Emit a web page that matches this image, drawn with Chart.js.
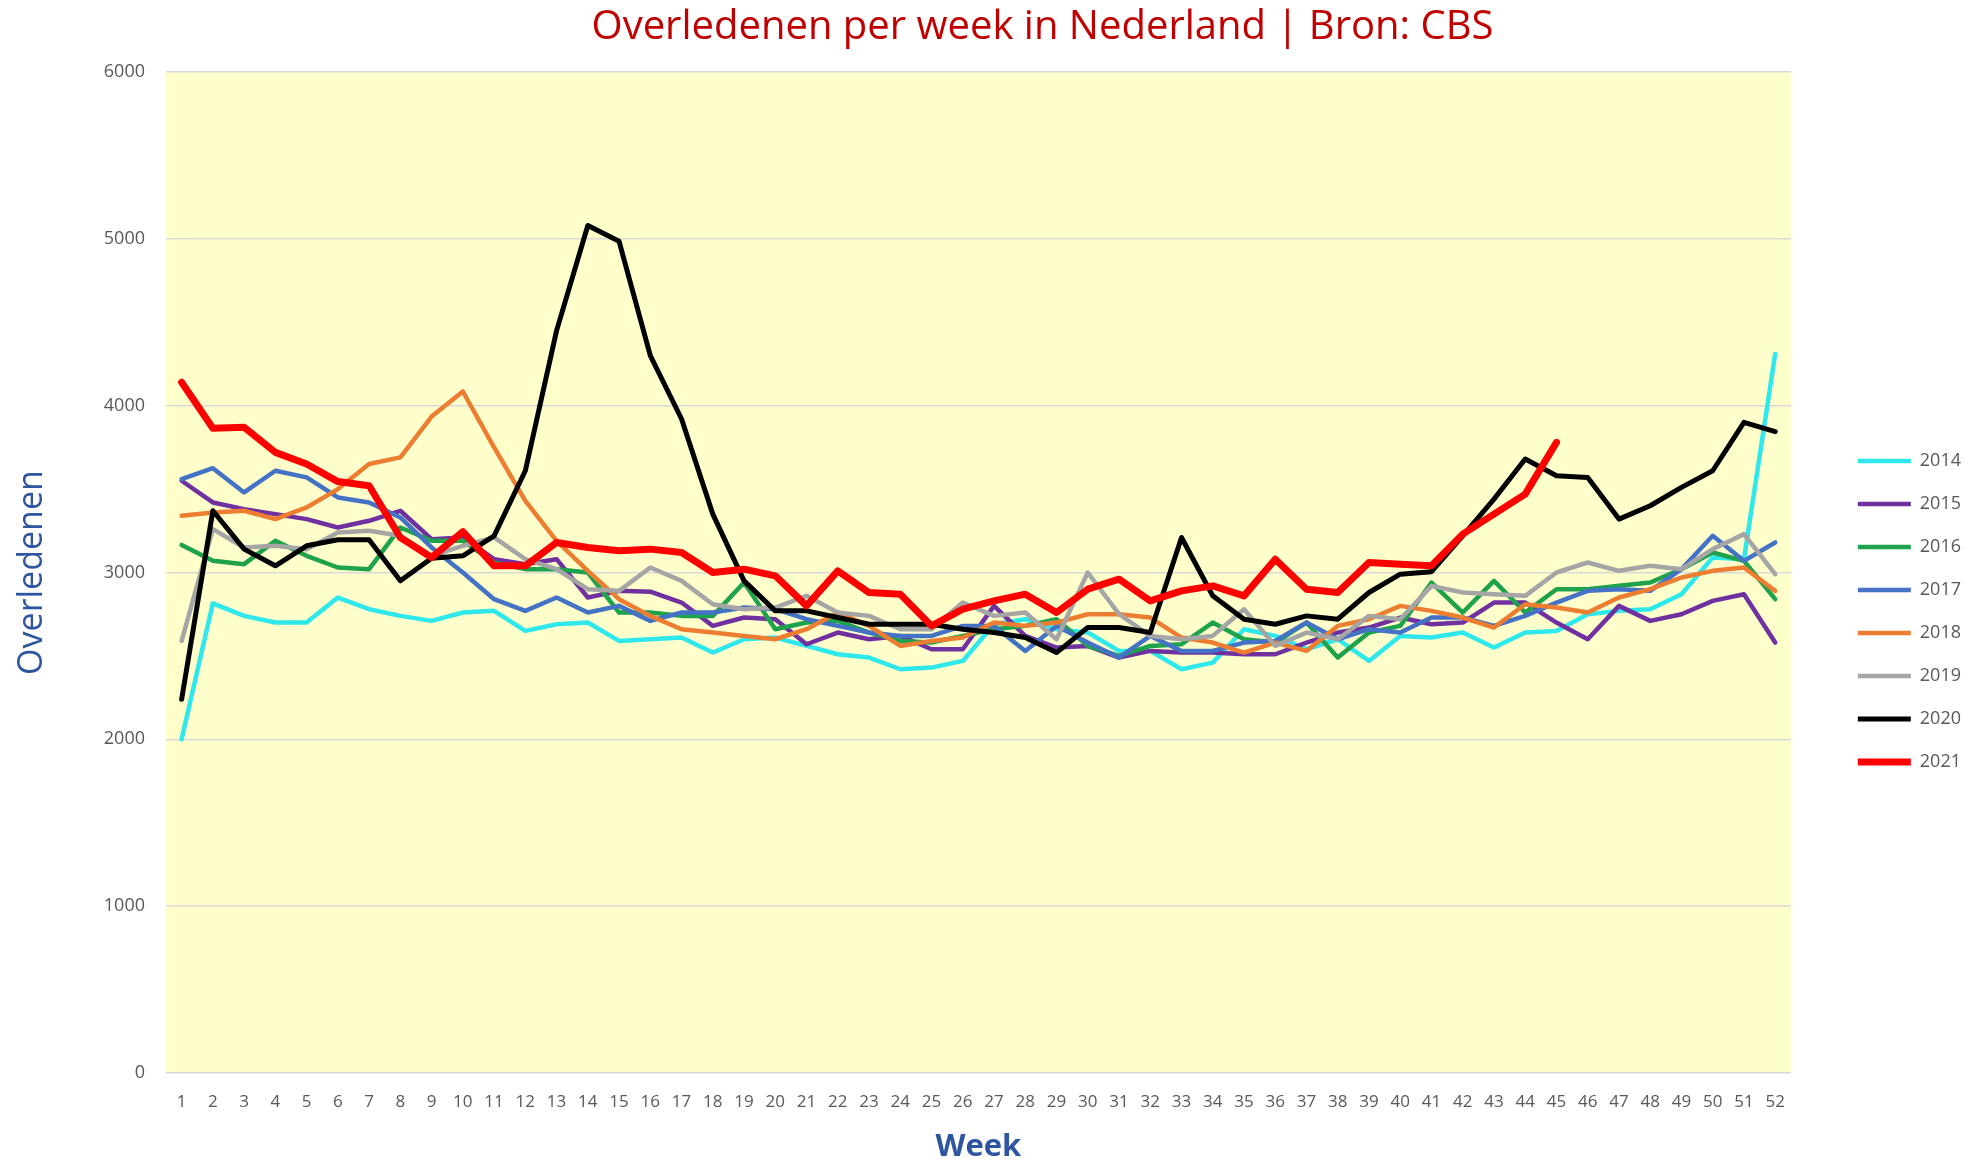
<!DOCTYPE html>
<html>
<head>
<meta charset="utf-8">
<script src="https://cdn.jsdelivr.net/npm/chart.js@4.4.1/dist/chart.umd.min.js"></script>
<style>
  html, body { margin: 0; padding: 0; background: #ffffff; }
  #wrap { width: 1972px; height: 1163px; position: relative; }
</style>
</head>
<body>
<div id="wrap"><canvas id="chart"></canvas></div>
<script>
const weeks = [];
for (let w = 1; w <= 52; w++) weeks.push(String(w));

const years = ['2014', '2015', '2016', '2017', '2018', '2019', '2020', '2021'];

const y2014 = [2000, 2815, 2740, 2700, 2700, 2850, 2780, 2740, 2710, 2760, 2770, 2650, 2690, 2700, 2590, 2600,
  2610, 2520, 2600, 2610, 2560, 2510, 2490, 2420, 2430, 2470, 2690, 2720, 2660, 2640, 2530, 2530, 2420, 2460,
  2660, 2620, 2540, 2600, 2470, 2620, 2610, 2640, 2550, 2640, 2650, 2750, 2770, 2780, 2870, 3090, 3080, 4310];
const y2015 = [3550, 3420, 3380, 3350, 3320, 3270, 3310, 3370, 3200, 3210, 3080, 3050, 3080, 2850, 2890, 2885,
  2820, 2680, 2730, 2720, 2570, 2640, 2600, 2620, 2540, 2540, 2800, 2620, 2550, 2560, 2490, 2530, 2520, 2520,
  2510, 2510, 2580, 2640, 2670, 2730, 2690, 2700, 2820, 2820, 2700, 2600, 2800, 2710, 2750, 2830, 2870, 2580];
const y2016 = [3165, 3070, 3050, 3190, 3100, 3030, 3020, 3270, 3190, 3190, 3060, 3020, 3020, 3000, 2760, 2760,
  2740, 2740, 2940, 2660, 2700, 2710, 2640, 2590, 2580, 2620, 2660, 2680, 2720, 2560, 2500, 2560, 2570, 2700,
  2600, 2580, 2700, 2490, 2640, 2680, 2940, 2760, 2950, 2760, 2900, 2900, 2920, 2940, 3020, 3120, 3070, 2840];
const y2017 = [3560, 3625, 3480, 3610, 3570, 3450, 3420, 3330, 3150, 3000, 2840, 2770, 2850, 2760, 2800, 2710,
  2760, 2760, 2790, 2780, 2720, 2680, 2640, 2620, 2620, 2680, 2680, 2530, 2680, 2580, 2490, 2620, 2530, 2530,
  2580, 2590, 2700, 2600, 2660, 2640, 2730, 2730, 2680, 2740, 2820, 2890, 2900, 2890, 3020, 3220, 3070, 3180];
const y2018 = [3340, 3360, 3370, 3320, 3390, 3500, 3650, 3690, 3935, 4085, 3750, 3430, 3190, 3010, 2840, 2740,
  2660, 2640, 2620, 2600, 2660, 2760, 2680, 2560, 2590, 2610, 2700, 2680, 2700, 2750, 2750, 2730, 2610, 2580,
  2520, 2580, 2530, 2680, 2720, 2800, 2770, 2730, 2670, 2810, 2790, 2760, 2850, 2900, 2970, 3010, 3030, 2890];
const y2019 = [2590, 3260, 3150, 3160, 3140, 3240, 3250, 3220, 3100, 3160, 3210, 3080, 3020, 2900, 2890, 3030,
  2950, 2810, 2780, 2790, 2860, 2760, 2740, 2660, 2660, 2820, 2740, 2760, 2600, 3000, 2750, 2620, 2600, 2620,
  2780, 2560, 2640, 2600, 2740, 2720, 2920, 2880, 2870, 2860, 3000, 3060, 3010, 3040, 3020, 3140, 3230, 2990];
const y2020 = [2240, 3370, 3140, 3040, 3160, 3196, 3196, 2950, 3085, 3100, 3220, 3610, 4450, 5080, 4985, 4300,
  3920, 3350, 2950, 2770, 2770, 2730, 2690, 2690, 2690, 2660, 2640, 2610, 2520, 2670, 2670, 2640, 3210, 2860,
  2720, 2690, 2740, 2720, 2880, 2990, 3005, 3220, 3440, 3680, 3580, 3570, 3320, 3400, 3510, 3610, 3900, 3845];
const y2021 = [4140, 3865, 3870, 3720, 3650, 3545, 3520, 3210, 3090, 3245, 3040, 3040, 3180, 3150, 3130, 3140,
  3120, 3000, 3020, 2980, 2800, 3010, 2880, 2870, 2680, 2780, 2830, 2870, 2760, 2900, 2960, 2830, 2890, 2920,
  2860, 3080, 2900, 2880, 3060, 3050, 3040, 3230, 3350, 3470, 3780];

const series = [y2014, y2015, y2016, y2017, y2018, y2019, y2020, y2021];
const colors = ['#2ee8ec', '#7030a0', '#1ea24c', '#4472c4', '#ed7d31', '#a5a5a5', '#000000', '#ff0000'];
const widths = [4.5, 4.5, 4.5, 4.5, 4.5, 4.5, 5, 7];

const blue = '#2e55a0';
const tickGrey = '#595959';

// yellow plot area
const plotBackground = {
  id: 'plotBackground',
  beforeDraw(chart) {
    const {ctx, chartArea} = chart;
    ctx.save();
    ctx.fillStyle = '#ffffcc';
    ctx.fillRect(chartArea.left, chartArea.top, chartArea.width, chartArea.height);
    ctx.restore();
  }
};

// legend a bit further right/lower, title a bit right of centre
const nudge = {
  id: 'nudge',
  afterLayout(chart) {
    const lg = chart.legend;
    if (lg) {
      lg.left += 42; lg.right += 42;
      lg.top += 30; lg.bottom += 30;
    }
    const tb = chart.titleBlock;
    if (tb) { tb.left += 78; tb.right += 78; }
  }
};

const ctx = document.getElementById('chart').getContext('2d');
const chart = new Chart(ctx, {
  type: 'line',
  data: {
    labels: weeks,
    datasets: series.map((d, i) => ({
      label: years[i],
      data: d,
      borderColor: colors[i],
      backgroundColor: colors[i],
      borderWidth: widths[i],
      borderCapStyle: 'round',
      borderJoinStyle: 'round',
      pointRadius: 0,
      pointStyle: 'line',
      tension: 0,
      order: series.length - 1 - i
    }))
  },
  options: {
    responsive: true,
    maintainAspectRatio: false,
    animation: false,
    layout: { padding: { left: 0, right: 43, top: 0, bottom: 0 } },
    plugins: {
      title: {
        display: true,
        text: 'Overledenen per week in Nederland | Bron: CBS',
        color: '#c00000',
        font: { family: 'Open Sans', size: 40, weight: 'normal' },
        padding: { top: 4, bottom: 20 }
      },
      legend: {
        position: 'right',
        align: 'center',
        labels: {
          usePointStyle: true,
          pointStyle: 'line',
          pointStyleWidth: 53,
          padding: 25,
          color: tickGrey,
          font: { family: 'Open Sans', size: 18 },
          sort: (a, b) => a.datasetIndex - b.datasetIndex
        }
      },
      tooltip: { enabled: false }
    },
    scales: {
      x: {
        offset: true,
        grid: { display: false, drawTicks: false },
        border: { display: false },
        ticks: {
          color: tickGrey,
          font: { family: 'Open Sans', size: 17 },
          autoSkip: false,
          maxRotation: 0,
          padding: 19
        },
        title: {
          display: true,
          text: 'Week',
          color: blue,
          font: { family: 'Open Sans', size: 31, weight: 'bold' },
          padding: { top: 12, bottom: -3 }
        },
        afterFit(scale) { scale.height = 90; }
      },
      y: {
        min: 0,
        max: 6000,
        grid: { color: '#d9d9d9', lineWidth: 1.5, drawTicks: false },
        border: { display: false },
        ticks: {
          stepSize: 1000,
          color: tickGrey,
          font: { family: 'Open Sans', size: 18 },
          padding: 21,
          callback: (v) => String(v)
        },
        title: {
          display: true,
          text: 'Overledenen',
          color: blue,
          font: { family: 'Open Sans', size: 34 },
          padding: { top: 12, bottom: 10 }
        },
        afterFit(scale) { scale.width = 166; }
      }
    }
  },
  plugins: [plotBackground, nudge]
});
</script>
</body>
</html>
